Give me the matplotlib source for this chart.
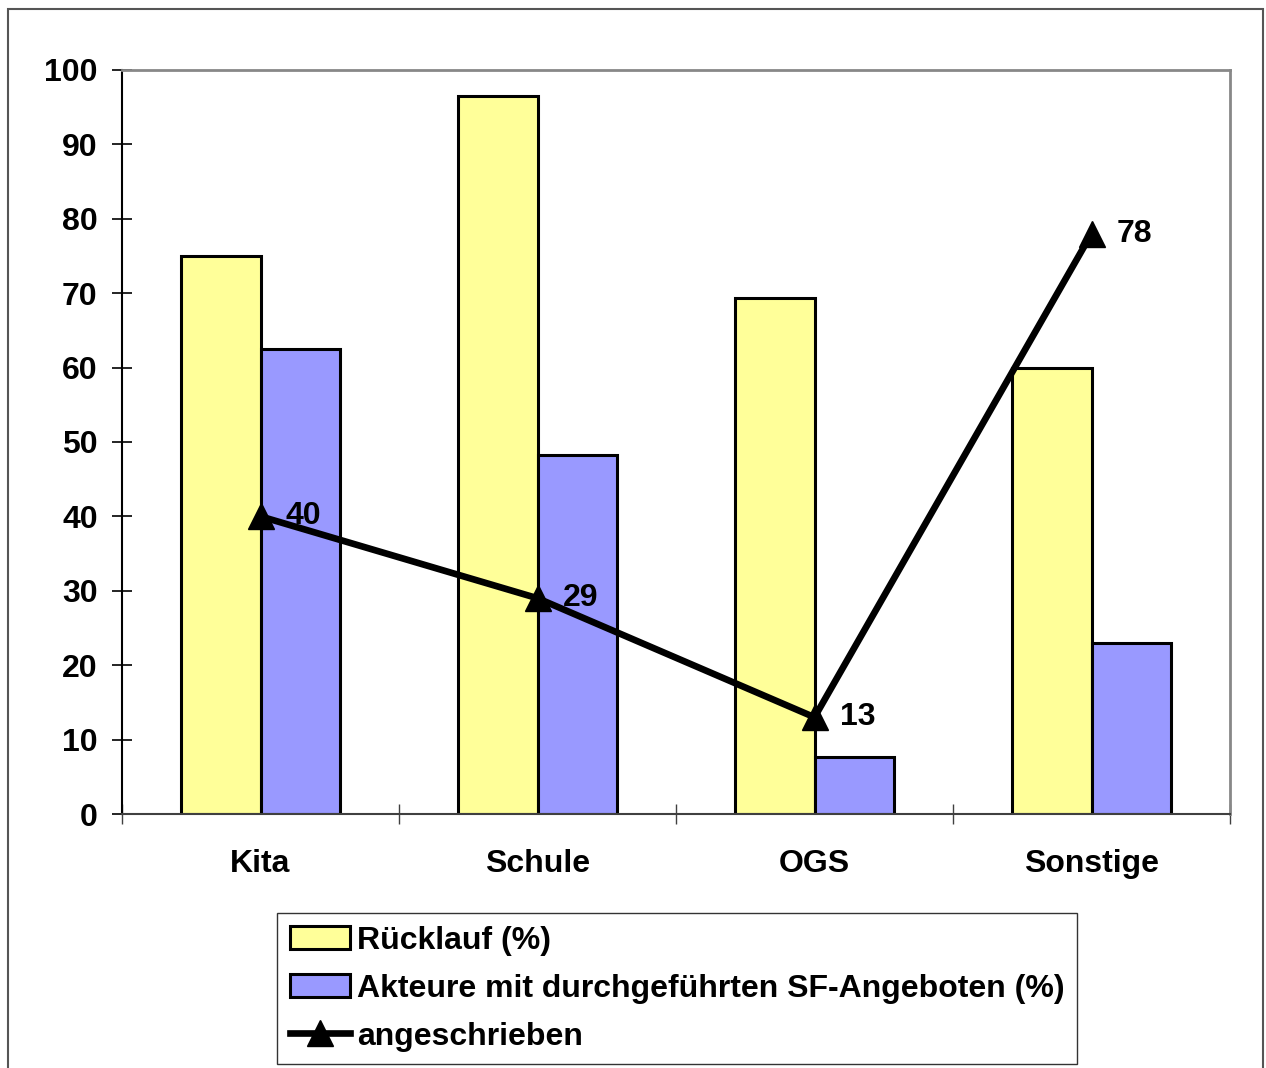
import matplotlib
matplotlib.use("Agg")
import matplotlib.pyplot as plt
import numpy as np
from matplotlib.patches import Rectangle

plt.rcParams["font.family"] = ["Liberation Sans", "DejaVu Sans"]
plt.rcParams["font.weight"] = "bold"

categories = ["Kita", "Schule", "OGS", "Sonstige"]
ruecklauf = [75.0, 96.5, 69.3, 59.9]
akteure = [62.5, 48.3, 7.7, 23.0]
angeschrieben = [40, 29, 13, 78]
yticks = [0, 10, 20, 30, 40, 50, 60, 70, 80, 90, 100]

FS = 23
W, H = 1266, 1068
fig = plt.figure(figsize=(W / 100, H / 100), dpi=100)
ax = fig.add_axes([122 / W, 1 - 814 / H, (1230 - 122) / W, (814 - 70) / H])

x = np.arange(len(categories))
bw = 0.287
b1 = ax.bar(x - bw / 2, ruecklauf, bw, color="#FFFF99", edgecolor="black", linewidth=2.2,
            label="Rücklauf (%)", zorder=2)
b2 = ax.bar(x + bw / 2, akteure, bw, color="#9999FF", edgecolor="black", linewidth=2.2,
            label="Akteure mit durchgeführten SF-Angeboten (%)", zorder=2)
ln, = ax.plot(x, angeschrieben, color="black", linewidth=4.8, marker="^", markersize=19,
              label="angeschrieben", zorder=3)
for xi, v in zip(x, angeschrieben):
    ax.annotate(str(v), (xi, v), xytext=(18, 0), textcoords="offset points",
                ha="left", va="center", fontsize=FS, fontweight="bold", zorder=4)

ax.set_xlim(-0.5, len(categories) - 0.5)
ax.set_ylim(0, 100)
ax.set_yticks(yticks)
ax.set_yticklabels([str(t) for t in yticks], fontsize=FS, fontweight="bold")
ax.set_xticks(x)
ax.set_xticklabels(categories, fontsize=FS, fontweight="bold")
ax.tick_params(axis="x", length=0, pad=25)
ax.set_xticks(np.arange(-0.5, len(categories)), minor=True)
ax.tick_params(axis="x", which="minor", direction="inout", length=15, width=1, color="#404040")
ax.tick_params(axis="y", direction="inout", length=15, width=1.2, color="black", pad=10)

for side in ("top", "right"):
    ax.spines[side].set_color("#888888")
    ax.spines[side].set_linewidth(2)
ax.spines["left"].set_color("black")
ax.spines["left"].set_linewidth(1.5)
ax.spines["bottom"].set_color("#404040")
ax.spines["bottom"].set_linewidth(1.5)

leg = fig.legend([b1, b2, ln], [b1.get_label(), b2.get_label(), ln.get_label()],
                 loc="upper left", bbox_to_anchor=(277 / W, 1 - 913 / H),
                 frameon=True, fancybox=False, edgecolor="black",
                 handlelength=1.9, handletextpad=0.2, labelspacing=0.56,
                 borderpad=0.4, borderaxespad=0, prop={"weight": "bold", "size": FS})
leg.get_frame().set_linewidth(1)

fig.patches.append(Rectangle((8 / W, -0.01), (1263 - 8) / W, 1 - 9 / H + 0.01,
                             transform=fig.transFigure, fill=False,
                             edgecolor="#555555", linewidth=1.5))

fig.savefig("out.png", dpi=100)
